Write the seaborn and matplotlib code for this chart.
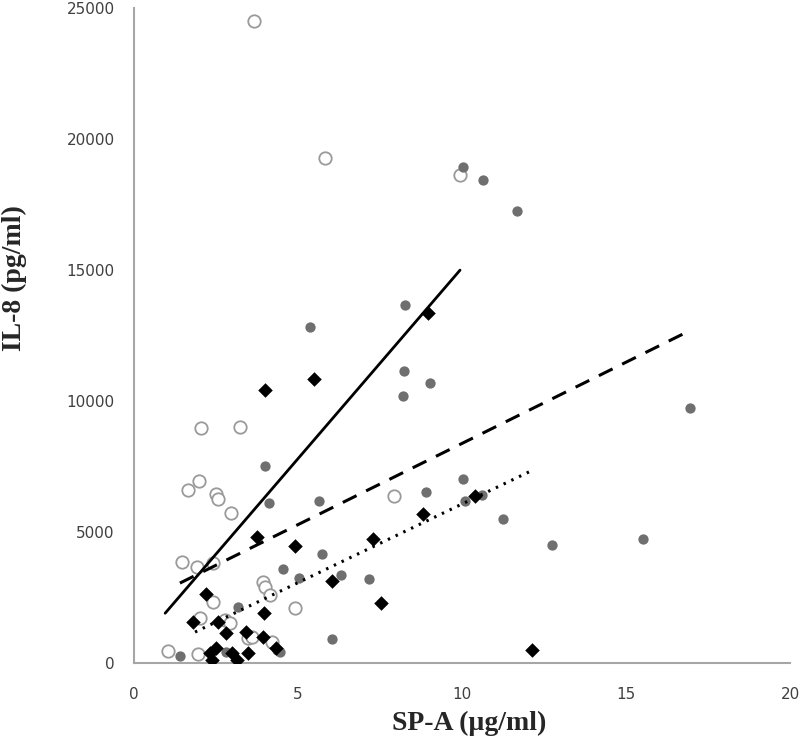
import matplotlib

matplotlib.use("Agg")
import matplotlib.pyplot as plt
import pandas as pd
import seaborn as sns

# open circles
open_x = [3.66, 5.82, 9.94, 2.04, 3.23, 1.98, 1.65, 2.50, 2.56, 2.96, 7.93, 1.46, 1.92, 2.41,
          3.93, 4.00, 4.15, 2.41, 4.90, 2.00, 2.77, 2.93, 3.48, 3.60, 4.20, 1.04, 1.95]
open_y = [24500, 19300, 18630, 8970, 9010, 6950, 6600, 6450, 6260, 5725, 6370, 3850, 3660, 3820,
          3090, 2900, 2600, 2330, 2100, 1720, 1640, 1530, 950, 1000, 800, 460, 340]

# grey filled circles
grey_x = [10.03, 10.64, 11.68, 16.95, 9.02, 8.20, 8.26, 8.23, 5.37, 3.99, 4.12, 5.64, 10.03, 8.90,
          10.09, 10.60, 11.25, 6.31, 7.17, 12.74, 15.52, 5.73, 6.04, 4.54, 5.03, 3.17, 1.40, 4.45,
          2.80, 4.36]
grey_y = [18930, 18440, 17250, 9730, 10690, 10190, 13660, 11150, 12830, 7520, 6100, 6180, 7020, 6530,
          6190, 6410, 5500, 3360, 3200, 4500, 4730, 4160, 920, 3590, 3240, 2140, 270, 420,
          420, 500]

# black diamonds
diam_x = [3.99, 5.49, 8.96, 3.75, 4.90, 6.04, 2.20, 7.29, 8.81, 10.40, 7.53, 12.13, 1.80, 2.56,
          2.80, 3.96, 3.41, 3.93, 4.33, 2.50, 2.32, 2.99, 2.38, 3.14, 3.48]
diam_y = [10420, 10840, 13360, 4810, 4470, 3130, 2630, 4730, 5690, 6370, 2290, 500, 1560, 1560,
          1140, 1910, 1180, 990, 570, 570, 380, 380, 115, 115, 380]

# trend lines (end points)
solid_x = [0.95, 9.94]
solid_y = [1900, 15000]
dash_x = [1.40, 16.80]
dash_y = [3050, 12600]
dot_x = [1.86, 12.10]
dot_y = [1180, 7330]

x_ticks = [0, 5, 10, 15, 20]
y_ticks = [0, 5000, 10000, 15000, 20000, 25000]

sns.set_style("white")
plt.rcParams["font.family"] = ["DejaVu Sans"]

fig = plt.figure(figsize=(8, 7.52), dpi=100)
ax = fig.add_axes([0.1675, 0.1184, 0.82, 0.8706])

sns.scatterplot(x=open_x, y=open_y, ax=ax, marker="o", s=80,
                facecolor="white", edgecolor="#9a9a9a", linewidth=1.3, zorder=3)
sns.scatterplot(x=grey_x, y=grey_y, ax=ax, marker="o", s=55,
                color="#6f6f6f", edgecolor="#6f6f6f", linewidth=0, zorder=4)
sns.scatterplot(x=diam_x, y=diam_y, ax=ax, marker="D", s=55,
                color="black", edgecolor="black", linewidth=0, zorder=5)

sns.lineplot(x=solid_x, y=solid_y, ax=ax, color="black", linewidth=2.0, zorder=6)
sns.lineplot(x=dash_x, y=dash_y, ax=ax, color="black", linewidth=2.2, zorder=6).lines[-1].set_dashes([5, 3.5])
sns.lineplot(x=dot_x, y=dot_y, ax=ax, color="black", linewidth=2.2, zorder=6).lines[-1].set_dashes([0.8, 2.0])

ax.set_xlim(0, 20)
ax.set_ylim(0, 25000)
ax.set_xticks(x_ticks)
ax.set_yticks(y_ticks)
ax.tick_params(axis="both", length=0, labelsize=11, colors="#404040", pad=14)
ax.tick_params(axis="x", pad=17)

for side in ["top", "right"]:
    ax.spines[side].set_visible(False)
for side in ["left", "bottom"]:
    ax.spines[side].set_color("#a6a6a6")
    ax.spines[side].set_linewidth(1.5)

ax.set_xlabel("SP-A (µg/ml)", family="Liberation Serif", fontweight="bold", fontsize=20)
ax.set_ylabel("IL-8 (pg/ml)", family="Liberation Serif", fontweight="bold", fontsize=20)
ax.xaxis.set_label_coords(0.511, -0.073)
ax.yaxis.set_label_coords(-0.163, 0.588)

fig.savefig("out.png", dpi=100)
plt.close()
